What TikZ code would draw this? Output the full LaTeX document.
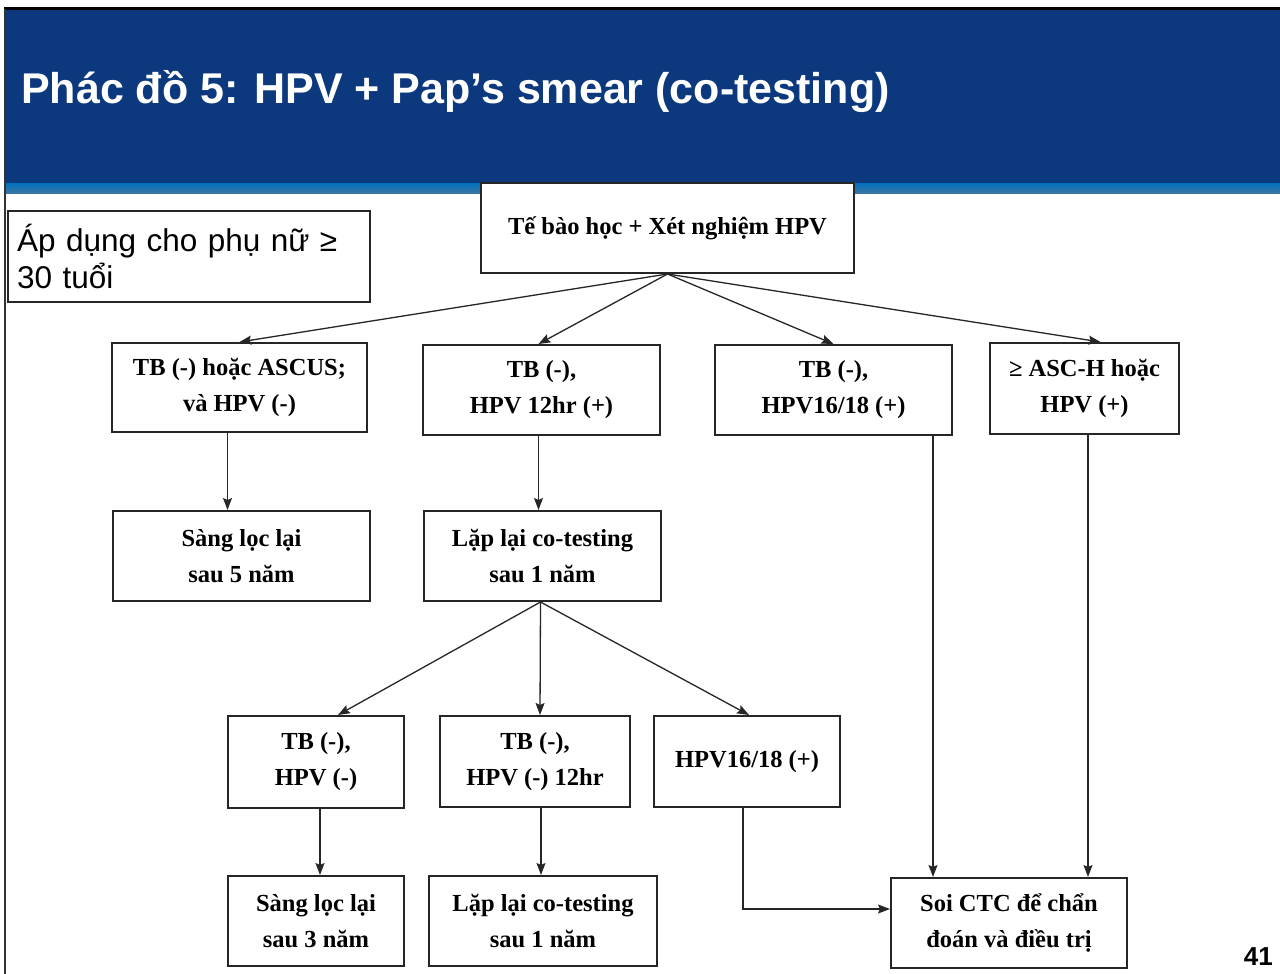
\documentclass[tikz,border=0pt]{standalone}
\usepackage{fontspec}
\setmainfont{Liberation Serif}
\newfontfamily\arial{Liberation Sans}
\usetikzlibrary{arrows.meta,calc}
\definecolor{hdr}{RGB}{12,57,125}
\definecolor{stripe}{RGB}{0,112,192}
\begin{document}
\begin{tikzpicture}[x=1pt,y=-1pt,
  box/.style={draw=black!85, line width=2pt, fill=white, align=center, inner sep=0pt,
    font=\fontsize{24.5}{36}\selectfont\bfseries},
  arr/.style={line width=1.3pt, draw=black!85, -{Stealth[length=12pt,width=9pt,inset=2pt]}}]
\useasboundingbox (0,0) rectangle (1280,974);
\fill[white] (0,0) rectangle (1280,974);
% header
\fill[hdr] (6,10) rectangle (1280,183);
\shade[top color=stripe, bottom color=stripe!55!gray] (6,183) rectangle (1280,193);
\draw[line width=3pt] (4,9) -- (1280,9);
\draw[line width=2pt, black!80] (5,9) -- (5,974);
\node[anchor=base west, text=white, inner sep=0pt,
  font=\arial\bfseries\fontsize{43}{50}\selectfont] (title) at (21,103)
  {Phác đồ 5: HPV + Pap’s smear (co-testing)};
% note box
\node[draw=black!85, line width=2pt, fill=white, minimum height=91pt, text width=344pt,
  inner sep=9pt, align=left, font=\arial\fontsize{31.5}{37}\selectfont] (note) at (189,256.5)
  {Áp dụng cho phụ nữ ≥\\30 tuổi};
% nodes
\node[box, minimum width=373pt, minimum height=90pt] (top) at (667.5,228) {Tế bào học + Xét nghiệm HPV};
\node[box, minimum width=255pt, minimum height=89pt] (A) at (239.5,387.5) {TB (-) hoặc ASCUS;\\và HPV (-)};
\node[box, minimum width=237pt, minimum height=90pt] (B) at (541.5,390) {TB (-),\\HPV 12hr (+)};
\node[box, minimum width=237pt, minimum height=90pt] (C) at (833.5,390) {TB (-),\\HPV16/18 (+)};
\node[box, minimum width=189pt, minimum height=91pt] (D) at (1084.5,388.5) {≥ ASC-H hoặc\\HPV (+)};
\node[box, minimum width=257pt, minimum height=90pt] (E) at (241.5,556) {Sàng lọc lại\\sau 5 năm};
\node[box, minimum width=237pt, minimum height=90pt] (F) at (542.5,556) {Lặp lại co-testing\\sau 1 năm};
\node[box, minimum width=176pt, minimum height=92pt] (G) at (316,762) {TB (-),\\HPV (-)};
\node[box, minimum width=190pt, minimum height=91pt] (H) at (535,761.5) {TB (-),\\HPV (-) 12hr};
\node[box, minimum width=186pt, minimum height=91pt] (I) at (747,761.5) {HPV16/18 (+)};
\node[box, minimum width=176pt, minimum height=90pt] (J) at (316,921) {Sàng lọc lại\\sau 3 năm};
\node[box, minimum width=228pt, minimum height=90pt] (K) at (543,921) {Lặp lại co-testing\\sau 1 năm};
\node[box, minimum width=236pt, minimum height=90pt] (L) at (1009,923) {Soi CTC để chẩn\\đoán và điều trị};
\node[anchor=base east, inner sep=0pt, font=\arial\bfseries\fontsize{26}{30}\selectfont] (pg) at (1273,965) {41};
% connectors
\draw[arr] (top.south) -- (A.north);
\draw[arr] (top.south) -- ([xshift=-3pt]B.north);
\draw[arr] (top.south) -- (C.north);
\draw[arr] (top.south) -- ([xshift=16pt]D.north);
\draw[arr] ([xshift=-12pt]A.south) -- ([xshift=-12pt]A.south |- E.north);
\draw[arr] ([xshift=-3pt]B.south) -- ([xshift=-3pt]B.south |- F.north);
\draw[arr] ([xshift=-2pt]F.south) -- ([xshift=22pt]G.north);
\draw[arr] ([xshift=-2pt]F.south) -- ([xshift=5pt]H.north);
\draw[arr] ([xshift=-2pt]F.south) -- ([xshift=2pt]I.north);
\draw[arr] ([xshift=4pt]G.south) -- ([xshift=4pt]G.south |- J.north);
\draw[arr] ([xshift=6pt]H.south) -- ([xshift=6pt]H.south |- K.north);
\draw[arr] ([xshift=99.5pt]C.south) -- ([xshift=99.5pt]C.south |- L.north);
\draw[arr] ([xshift=3.5pt]D.south) -- ([xshift=3.5pt]D.south |- L.north);
\draw[arr] ([xshift=-4pt]I.south) |- ([yshift=14pt]L.west);
\end{tikzpicture}
\end{document}
